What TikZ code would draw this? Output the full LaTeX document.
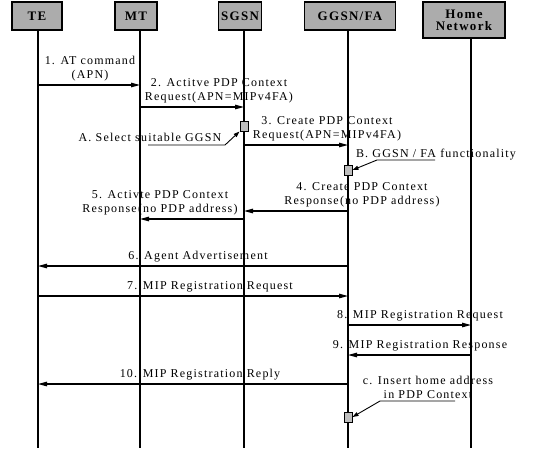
\documentclass[tikz,border=0pt]{standalone}
\usepackage{fontspec}
\setmainfont{Liberation Serif}
\newfontfamily\lblfont[LetterSpace=10]{Liberation Serif}
\newfontfamily\hdrfont[LetterSpace=10]{Liberation Serif}
\usetikzlibrary{arrows.meta}
\definecolor{hdrgray}{RGB}{172,172,172}
\definecolor{markgray}{RGB}{190,190,190}

\begin{document}
\begin{tikzpicture}[x=1pt, y=-1pt,
    hdr/.style={draw, line width=1.4pt, fill=hdrgray, font=\hdrfont\bfseries\fontsize{13}{12}\selectfont, inner sep=0pt, align=center},
    life/.style={line width=1.3pt},
    msg/.style={line width=1.2pt, -{Triangle[length=9pt,width=4.5pt]}},
    note/.style={line width=0.9pt, -{Triangle[length=6pt,width=4pt]}},
    lbl/.style={font=\lblfont\fontsize{12}{14}\selectfont, align=center, inner sep=0pt, anchor=south},
    marker/.style={draw, line width=1pt, fill=markgray, minimum width=8pt, minimum height=10pt, inner sep=0pt}]
    \useasboundingbox (0,0) rectangle (534,448);

    % Header boxes
    \node[hdr, minimum width=50pt, minimum height=28pt] (te) at (37,16) {TE};
    \node[hdr, minimum width=42pt, minimum height=28pt] (mt) at (136,16) {MT};
    \node[hdr, minimum width=43pt, minimum height=28pt] (sgsn) at (240,16) {SGSN};
    \node[hdr, minimum width=91pt, minimum height=28pt] (ggsn) at (350,16) {GGSN/FA};
    \node[hdr, minimum width=82pt, minimum height=36pt] (home) at (464,20) {Home\\Network};

    % Lifelines
    \foreach \n/\x in {te/38, mt/140, sgsn/244, ggsn/348, home/471} {
        \coordinate (\n-l) at (\x,0);
        \draw[life] (\n.south -| \n-l) -- (\n-l |- 0,448);
    }

    % PDP context set-up
    \draw[msg] (te-l |- 0,85) -- (mt-l |- 0,85);
    \node[lbl] (l1) at (90,81) {1. AT command\\(APN)};
    \draw[msg] (mt-l |- 0,107) -- (sgsn-l |- 0,107);
    \node[lbl] (l2) at (219,103) {2. Actitve PDP Context\\Request(APN=MIPv4FA)};
    \draw[msg] (sgsn-l |- 0,145) -- (ggsn-l |- 0,145);
    \node[lbl] (l3) at (327,141) {3. Create PDP Context\\Request(APN=MIPv4FA)};
    \draw[msg] (ggsn-l |- 0,211) -- (sgsn-l |- 0,211);
    \node[lbl] (l4) at (362,207) {4. Create PDP Context\\Response(no PDP address)};
    \draw[msg] (sgsn-l |- 0,219) -- (mt-l |- 0,219);
    \node[lbl] (l5) at (160,215) {5. Activte PDP Context\\Response(no PDP address)};

    % Local actions A and B
    \node[marker] (sqA) at (244,126) {};
    \node[lbl] (lA) at (150,142) {A. Select suitable GGSN};
    \coordinate (nA) at (148,145);
    \draw[note] (nA) -- (225,145) -- (sqA.south west);
    \node[marker] (sqB) at (348,170) {};
    \node[lbl] (lB) at (436,160) {B. GGSN / FA functionality};
    \coordinate (nB) at (435,160);
    \draw[note] (nB) -- (377,160) -- (sqB.east);

    % Mobile IP registration
    \draw[msg] (ggsn-l |- 0,266) -- (te-l |- 0,266);
    \node[lbl] (l6) at (198,262) {6. Agent Advertisement};
    \draw[msg] (te-l |- 0,296) -- (ggsn-l |- 0,296);
    \node[lbl] (l7) at (210,292) {7. MIP Registration Request};
    \draw[msg] (ggsn-l |- 0,325) -- (home-l |- 0,325);
    \node[lbl] (l8) at (420,321) {8. MIP Registration Request};
    \draw[msg] (home-l |- 0,355) -- (ggsn-l |- 0,355);
    \node[lbl] (l9) at (420,351) {9. MIP Registration Response};
    \draw[msg] (ggsn-l |- 0,384) -- (te-l |- 0,384);
    \node[lbl] (l10) at (200,380) {10. MIP Registration Reply};

    % Local action c
    \node[marker] (sqC) at (348,417) {};
    \node[lbl] (lC) at (428,399) {c. Insert home address\\in PDP Context};
    \coordinate (nC) at (455,401);
    \draw[note] (nC) -- (380,401) -- (sqC.east);
\end{tikzpicture}
\end{document}
